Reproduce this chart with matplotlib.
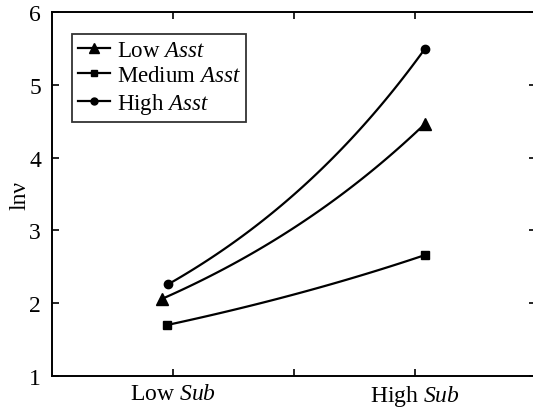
import matplotlib
matplotlib.use("Agg")
import matplotlib.pyplot as plt
import numpy as np

plt.rcParams['font.family'] = ['Liberation Serif', 'DejaVu Serif']
plt.rcParams['mathtext.fontset'] = 'custom'
plt.rcParams['mathtext.rm'] = 'Liberation Serif'
plt.rcParams['mathtext.it'] = 'Liberation Serif:italic'

# data
x_tick_labels = ['Low $\\it{Sub}$', '', 'High $\\it{Sub}$']
series_names = ['Low $\\it{Asst}$', 'Medium $\\it{Asst}$', 'High $\\it{Asst}$']
low_x = [0.955, 0.975, 0.98]
high_x = [2.04, 2.04, 2.04]
low_asst = [2.06, 4.46]
medium_asst = [1.70, 2.66]
high_asst = [2.26, 5.49]
markers = ['^', 's', 'o']
msizes = [8, 6, 6]

fig = plt.figure(figsize=(5.33, 4.10), dpi=100)
ax = fig.add_axes([52/533, 1-377/410, 484/533, 364/410])

for i, (name, vals) in enumerate(zip(series_names, [low_asst, medium_asst, high_asst])):
    x0, x1 = low_x[i], high_x[i]
    # curved connector (exponential between the two points)
    t = np.linspace(0, 1, 60)
    xs = x0 + (x1 - x0) * t
    ys = vals[0] * (vals[1] / vals[0]) ** t
    ax.plot(xs, ys, color='black', lw=1.6)
    ax.plot([x0, x1], vals, ls='none', marker=markers[i], ms=msizes[i], color='black')
    ax.plot([], [], color='black', lw=1.6, marker=markers[i], ms=msizes[i] - 1, label=name)

ax.set_xlim(0.5, 2.5)
ax.set_ylim(1, 6)
ax.set_xticks([1, 1.5, 2])
ax.set_xticklabels(x_tick_labels)
ax.set_yticks([1, 2, 3, 4, 5, 6])
ax.tick_params(direction='in', top=True, right=True, length=5, width=1.2, labelsize=17)
ax.tick_params(axis='y', pad=8)
ax.tick_params(axis='x', pad=5)
for s in ax.spines.values():
    s.set_linewidth(1.4)
ax.set_ylabel('ln\u03bd', fontsize=17, labelpad=-1)

leg = ax.legend(loc='upper left', bbox_to_anchor=(0.041, 0.94), fontsize=16.5, frameon=True,
                fancybox=False, edgecolor='black', handlelength=1.4, handletextpad=0.3,
                labelspacing=0.2, borderpad=0.25, borderaxespad=0)
leg.get_frame().set_linewidth(1.3)

fig.savefig('out.png', dpi=100)
